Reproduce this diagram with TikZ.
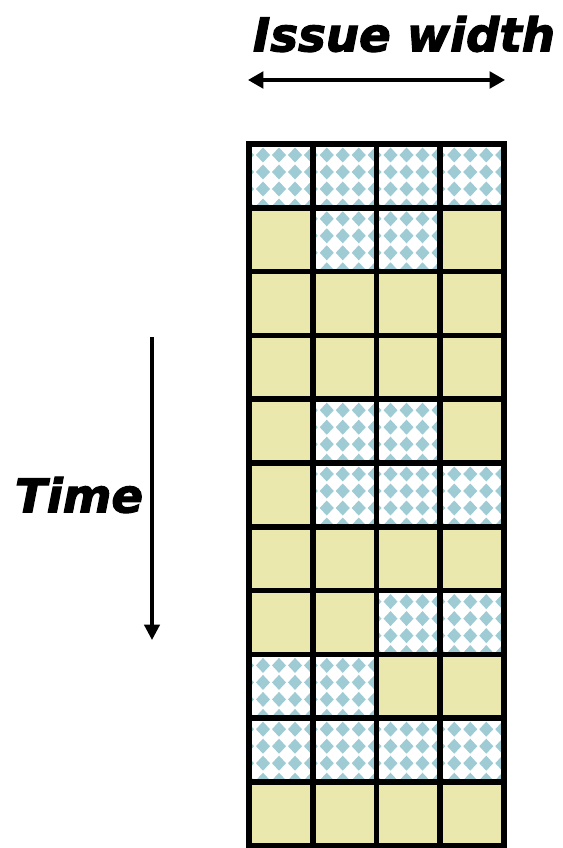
\documentclass[tikz,border=0pt]{standalone}
\usepackage{fontspec}
\usepackage{tikz}
\usetikzlibrary{arrows.meta, calc}
\newfontfamily\headfont{DejaVu Sans}[BoldItalicFeatures={FakeBold=2.5}]
\definecolor{slotfill}{HTML}{EAE8AC}
\definecolor{dotblue}{HTML}{9ECBD4}

\begin{document}
\begin{tikzpicture}[x=0.75pt, y=-0.75pt,
  headlabel/.style={font=\headfont\bfseries\itshape\fontsize{35}{39}\selectfont, inner sep=0pt},
  axisarrow/.style={line width=2.3pt, {Triangle[length=11.5pt, width=12.5pt]}-{Triangle[length=11.5pt, width=12.5pt]}},
  gridline/.style={line width=4.2pt, line cap=rect}]
\useasboundingbox (0,0) rectangle (562,848);
\fill[white] (0,0) rectangle (562,848);

% labels and axes
\node[headlabel] (issue) at (404,34) {Issue width};
\node[headlabel] (time) at (79,495) {Time};
\coordinate (iwL) at (248,80);
\coordinate (iwR) at (505,80);
\coordinate (tTop) at (152,337);
\coordinate (tBot) at (152,640);
\draw[axisarrow] (iwL) -- (iwR);
\draw[line width=2.3pt, -{Triangle[length=11.5pt, width=11.5pt]}] (tTop) -- (tBot);

% issue slots: 1 = empty (checked), 0 = used
\foreach \row [count=\r from 0] in {{1,1,1,1},{0,1,1,0},{0,0,0,0},{0,0,0,0},{0,1,1,0},{0,1,1,1},{0,0,0,0},{0,0,1,1},{1,1,0,0},{1,1,1,1},{0,0,0,0}} {
  \foreach \kind [count=\c from 0] in \row {
    \pgfmathsetmacro\xa{249+\c*63.75}
    \pgfmathsetmacro\ya{144+\r*63.8}
    \ifnum\kind=1
      \begin{scope}
        \clip (\xa,\ya) rectangle ++(63.75,63.8);
        \fill[white] (\xa,\ya) rectangle ++(63.75,63.8);
        \foreach \i in {0,...,4} {
          \foreach \j in {-1,...,3} {
            \fill[dotblue] (\xa-2+\i*16,\ya+11+\j*17) ++(0,-7.5) -- ++(7,7.5) -- ++(-7,7.5) -- ++(-7,-7.5) -- cycle;
          }
        }
      \end{scope}
    \else
      \fill[slotfill] (\xa,\ya) rectangle ++(63.75,63.8);
    \fi
  }
}

% grid
\foreach \c in {0,...,4} {
  \draw[gridline] (249+\c*63.75,144) -- (249+\c*63.75,845.8);
}
\foreach \r in {0,...,11} {
  \draw[gridline] (249,144+\r*63.8) -- (504,144+\r*63.8);
}
\end{tikzpicture}
\end{document}
